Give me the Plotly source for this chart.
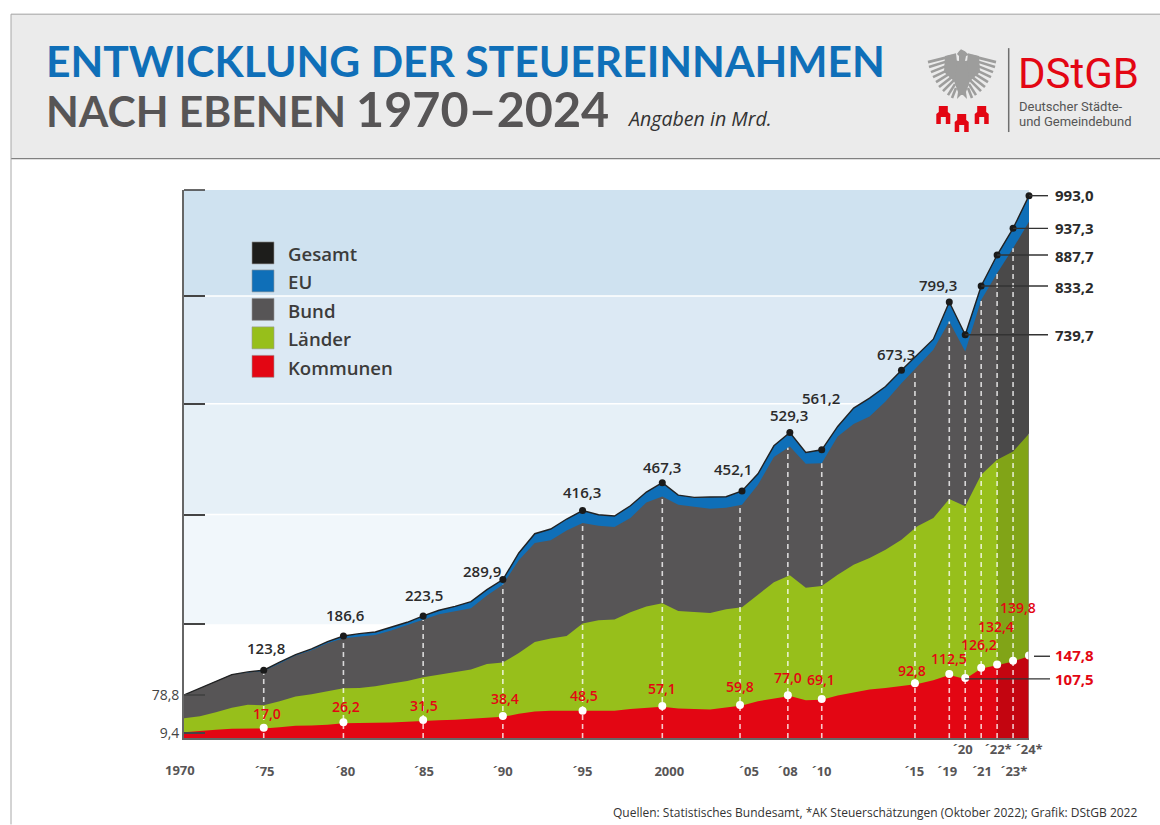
import numpy as np
import plotly.graph_objects as go

# ---------- data ----------
years = [y for y in range(1970, 2025) if y != 2018]   # the source skips one year on its axis
total_top = [78.8,91.7,103.9,116.1,121,124,138.7,152.7,163,176.5,186.6,191,194,202.7,211.8,223.5,233.8,241,249.6,271.5,
             289.9,338.6,373.9,382.5,400.8,416.3,408.7,406.2,425.1,450.1,467.3,444.6,440.4,441,441.6,452.1,483.6,534.8,
             559.2,522.6,527.5,570.2,603.7,622,643.4,673.3,701,729.9,798,738,827.4,884,932.8,992.6]
bund_top = [78.8,91.5,103.7,116,120,122.5,136.2,150.9,160.6,173.4,182.6,186.2,188.7,196.6,206.3,216,226.4,232,237.4,260.6,
            280.7,325.2,356.9,361.8,380,393.4,388.6,386.1,402.6,431.2,442.2,427,422.7,419.6,421.5,427,463.5,514.1,
            533.6,501.9,503,552,574.5,588.5,616,649.5,680,710.4,762.2,707.3,801.8,850.6,896.2,945]
laender_top = [36.3,39.9,47.3,55.2,60.7,60,67.4,75.9,80.2,85.6,91.1,91.7,94.8,99.7,104.5,111.2,116.1,119.8,125.3,135.6,
               138.1,155.7,175.8,182,186.8,209.4,215.5,216.7,230.1,240.5,246.6,232.5,230.7,228.9,235.6,239.2,262.4,285,
               297.8,275.2,278.3,299,317.3,329.5,344.7,362.9,387.4,402.6,437.4,424,481.9,509.3,524.5,556.8]
kommunen_top = [10.5,13.1,14.9,16.8,17.4,17.4,19.8,22.3,22.9,24.1,27.1,27.1,27.1,28.3,29.6,31.4,32.6,33.2,35,37.5,
                38.7,44.2,48.5,49.7,49.7,48.5,48.5,49.7,53.3,55.8,57,54,52.7,52.1,55.8,59.4,67.4,72.8,
                77.1,69.2,70,78,83,88.7,91.7,96,99,105.8,115.5,108.2,127.1,133.2,139.9,149.6]

marked_years = [1975,1980,1985,1990,1995,2000,2005,2008,2010,2015,2019,2020,2021,2022,2023]
gesamt_labels = ["123,8","186,6","223,5","289,9","416,3","467,3","452,1","529,3","561,2","673,3","799,3"]
kommunen_labels = ["17,0","26,2","31,5","38,4","48,5","57,1","59,8","77,0","69,1","92,8","112,5","126,2","132,4","139,8"]
right_gesamt_labels = ["993,0","937,3","887,7","833,2","739,7"]
right_gesamt_years = [2024,2023,2022,2021,2020]
right_kommunen_labels = ["147,8","107,5"]
right_kommunen_years = [2024,2020]
lower_ticks = {1975:"´75",1980:"´80",1985:"´85",1990:"´90",1995:"´95",2000:"2000",2005:"´05",2008:"´08",
               2010:"´10",2015:"´15",2019:"´19",2021:"´21",2023:"´23*"}
upper_ticks = {2020:"´20",2022:"´22*",2024:"´24*"}
band_edges = [0, 208, 409, 612, 809, 1003]
legend_names = ["Gesamt","EU","Bund","Länder","Kommunen"]

# ---------- styles / layout ----------
RED, GREEN, GRAY, BLUE, BLACK = "#e30613", "#97bf1b", "#575556", "#0f6fb8", "#1d1d1b"
TXT = "#3c3c3b"
FONT = "Open Sans"
W, H = 1160, 825
L, R, T, B = 184, 1029, 190, 738.5
PW, PH = R - L, B - T
n = len(years)
assert all(len(a) == n for a in (total_top, bund_top, laender_top, kommunen_top))
slots = list(range(n))
slot = dict(zip(years, slots))
DX = PW / (n - 1)

def xp(x): return (x - L) / PW
def yp(y): return (B - y) / PH
def ppath(pts, close=True):
    s = "M " + " L ".join(f"{xp(a):.5f} {yp(b):.5f}" for a, b in pts)
    return s + (" Z" if close else "")

fig = go.Figure()
def area(y, color, name, xs=slots):
    fig.add_trace(go.Scatter(x=xs, y=y, mode="lines", line=dict(width=0, color=color), fill="tozeroy",
                             fillcolor=color, name=name, hoverinfo="skip", showlegend=False))
area(total_top, BLUE, "EU")
area(bund_top, GRAY, "Bund")
area(laender_top, GREEN, "Länder")
area(kommunen_top, RED, "Kommunen")
# darker forecast years
fc = slot[2022]
area(bund_top[fc:], "rgba(0,0,0,0.14)", "Prognose", slots[fc:])

# dashed drop lines
DASH_NUDGE = {2015: 13.5/DX, 2005: -2/DX, 2008: -2/DX}
def x_of(yr): return slot[yr] + DASH_NUDGE.get(yr, 0)
for yr in marked_years:
    xx = x_of(yr)
    top = float(np.interp(xx, slots, bund_top))
    fig.add_trace(go.Scatter(x=[xx, xx], y=[0, top], mode="lines", hoverinfo="skip", showlegend=False,
                             line=dict(color="rgba(255,255,255,0.78)", width=1.6, dash="5px,4px")))

# total line + dots
fig.add_trace(go.Scatter(x=slots, y=total_top, mode="lines", name="Gesamt", hoverinfo="skip", showlegend=False,
                         line=dict(color="#222222", width=1.4)))
gy = marked_years + [2024]
fig.add_trace(go.Scatter(x=[slot[y] for y in gy], y=[total_top[slot[y]] for y in gy], mode="markers", cliponaxis=False,
                         marker=dict(color="#1a1a1a", size=7), hoverinfo="skip", showlegend=False))
kx = [x_of(y) for y in gy]
fig.add_trace(go.Scatter(x=kx, y=[float(np.interp(a, slots, kommunen_top)) + 1.5 for a in kx], mode="markers",
                         cliponaxis=False, marker=dict(color="white", size=8), hoverinfo="skip", showlegend=False))

shapes, ann = [], []
def text(x, y, s, size=14, color=TXT, weight=400, anchor="center", family=FONT, italic=False):
    ann.append(dict(x=xp(x), y=yp(y), xref="paper", yref="paper", text=s, showarrow=False, xanchor=anchor,
                    yanchor="middle", align=anchor if anchor != "center" else "center",
                    font=dict(family=family, size=size, color=color, weight=weight,
                              style="italic" if italic else "normal")))
def line(x0, y0, x1, y1, color, width, layer="above"):
    shapes.append(dict(type="line", xref="paper", yref="paper", x0=xp(x0), y0=yp(y0), x1=xp(x1), y1=yp(y1),
                       line=dict(color=color, width=width), layer=layer))

# bands
band_cols = ["rgba(0,0,0,0)", "#f1f7fb", "#e6f0f7", "#dce9f4", "#cfe2f0"]
for i in range(1, 5):
    shapes.append(dict(type="rect", xref="x", yref="y", x0=0, x1=n-1, y0=band_edges[i], y1=band_edges[i+1],
                       fillcolor=band_cols[i], line=dict(width=0), layer="below"))
for e in band_edges[2:5]:
    shapes.append(dict(type="line", xref="x", yref="y", x0=0, x1=n-1, y0=e, y1=e,
                       line=dict(color="white", width=1.5), layer="below"))
# right edge
shapes.append(dict(type="line", xref="x", yref="y", x0=n-1, x1=n-1, y0=0, y1=laender_top[-1],
                   line=dict(color="#9a9a9a", width=1.2), layer="above"))
# top tick (the axis drops an inside tick at its very end)
line(L, T, L + 21, T, "#444444", 1.6)

# connectors
for yr in right_gesamt_years:
    shapes.append(dict(type="line", xref="paper", yref="y", x0=xp(L + DX*slot[yr]), x1=xp(1048), y0=total_top[slot[yr]],
                       y1=total_top[slot[yr]], line=dict(color="#333333", width=1.4)))
shapes.append(dict(type="line", xref="paper", yref="y", x0=xp(1034), x1=xp(1050), y0=149.6, y1=149.6,
                   line=dict(color="#333333", width=1.4)))
shapes.append(dict(type="line", xref="paper", yref="y", x0=xp(L + DX*slot[2020]), x1=xp(1050), y0=108.2, y1=108.2,
                   line=dict(color="#333333", width=1.4)))

# header
shapes.append(dict(type="rect", xref="paper", yref="paper", x0=xp(11), x1=xp(1162), y0=yp(158), y1=yp(14),
                   fillcolor="#ebebeb", line=dict(width=0), layer="below"))
line(11, 14, 1160, 14, "#a0a0a0", 1)
line(11, 158.5, 1160, 158.5, "#808080", 1.2)
line(11, 14, 11, 825, "#a8a8a8", 1)

# titles
text(44, 60, "ENTWICKLUNG DER STEUEREINNAHMEN", 42.6, BLUE, 700, "left", "Lato")
text(44, 110, "NACH EBENEN", 42.6, GRAY, 700, "left", "Lato")
text(354, 108, "1970–2024", 48.5, GRAY, 700, "left", "Lato")
text(625, 118, "Angaben in Mrd.", 19.6, "#333333", 400, "left", FONT, True)

# logo: separator + text
line(1008.7, 48, 1008.7, 132, "#6f6f6f", 1.5)
text(1016, 73.5, "DStGB", 42, RED, 400, "left", "Roboto")
text(1017, 106, "Deutscher Städte-", 13, "#555555", 400, "left", "Roboto")
text(1017, 121, "und Gemeindebund", 13, "#555555", 400, "left", "Roboto")

# logo: eagle
EAGLE = "#9d9d9c"
cx = 962
def mirror(pts): return [(2*cx - a, b) for a, b in pts]
body = [(cx-1,49),(cx+3,51),(cx+7,55),(cx+4,56),(cx+3,61),(cx+9,60),(cx+11,70),(cx+7,84),(cx+4,92),(cx+5,99),(cx+1,95),
        (cx-1,95),(cx-5,99),(cx-4,92),(cx-7,84),(cx-11,70),(cx-9,60),(cx-3,61),(cx-3,56),(cx-5,54),(cx-3,51)]
shapes.append(dict(type="path", xref="paper", yref="paper", path=ppath(body), fillcolor=EAGLE, line=dict(width=0)))
feathers = [[(952,56),(928,62)],[(951,60),(929,67)],[(951,64),(931,72)],[(952,68),(933,77)],[(952,72),(936,82)],
            [(953,76),(939,87)],[(954,80),(943,91)],[(955,84),(948,95)],[(956,88),(952,98)]]
for f in feathers:
    for seg in (f, mirror(f)):
        shapes.append(dict(type="path", xref="paper", yref="paper", path=ppath(seg, False),
                           line=dict(color=EAGLE, width=2.6)))
wing = [(956,53),(945,56),(944,72),(955,82),(957,62)]
for seg in (wing, mirror(wing)):
    shapes.append(dict(type="path", xref="paper", yref="paper", path=ppath(seg), fillcolor=EAGLE, line=dict(width=0)))
# logo: towers
def tower(x, bot):
    return [(x-7,bot),(x-7,bot-10),(x-4.5,bot-12),(x-4.5,bot-18),(x+4.5,bot-18),(x+4.5,bot-12),(x+7,bot-10),(x+7,bot),
            (x+2.5,bot),(x+2.5,bot-7),(x-2.5,bot-7),(x-2.5,bot)]
for tx, tb in [(943.3,124),(961.7,132),(981.7,124)]:
    shapes.append(dict(type="path", xref="paper", yref="paper", path=ppath(tower(tx, tb)), fillcolor=RED, line=dict(width=0)))

# legend
sw_col = [BLACK, BLUE, GRAY, GREEN, RED]
leg_y = [253, 281, 309.5, 338, 366.5]
for nm, c, yy in zip(legend_names, sw_col, leg_y):
    shapes.append(dict(type="rect", xref="paper", yref="paper", x0=xp(252), x1=xp(274), y0=yp(yy+11), y1=yp(yy-11),
                       fillcolor=c, line=dict(color="#999999", width=0.6)))
    text(286, yy+1, nm, 18.6, TXT, 600, "left")

# value labels
gl_pos = [(266,648),(345,615),(424,595),(482,571),(582,492),(662,467),(733,469),(789,415),(821,398),(896,354),(937.5,285)]
for s, (a, b) in zip(gesamt_labels, gl_pos):
    text(a, b, s, 15, "#2b2b2b", 600)
rl_pos = [(267,714),(346,706.5),(424,706),(505,699),(584,696),(662,689),(740,687),(788,678),(821,680),(912,671),
          (949,659),(979,644.5),(996,627),(1018,608)]
for s, (a, b) in zip(kommunen_labels, rl_pos):
    text(a, b, s, 14, RED, 600)
for s, b in zip(right_gesamt_labels, [195,228,256,287,335]):
    text(1074, b, s, 15, "#2b2b2b", 700)
for s, b in zip(right_kommunen_labels, [655.7,679]):
    text(1074, b, s, 15, RED, 700)

# footer
text(1139, 813, "Quellen: Statistisches Bundesamt, *AK Steuerschätzungen (Oktober 2022); Grafik: DStGB 2022", 12, "#333333", 400, "right")

# x tick labels
TICK_NUDGE = {1975:1,1980:2,1985:1,2000:7,2005:7,2008:-2,2015:13,2019:-2,2021:1,2023:1}
UP_NUDGE = {2020:-2,2022:1}
tickvals = [slot[y] + TICK_NUDGE.get(y, 0)/DX for y in lower_ticks]
for y, s in upper_ticks.items():
    text(L + DX*slot[y] + UP_NUDGE.get(y, 0), 750, s, 13, GRAY, 700)
text(180, 771, "1970", 13, GRAY, 700)

fig.update_layout(
    width=W, height=H, paper_bgcolor="white", plot_bgcolor="white", showlegend=False,
    margin=dict(l=L, r=W-R, t=T, b=H-B, pad=0), shapes=shapes, annotations=ann,
    xaxis=dict(range=[0, n-1], tickmode="array", tickvals=tickvals, ticktext=list(lower_ticks.values()),
               ticks="", showgrid=False, zeroline=False, showline=True, linecolor="#666666", linewidth=1.5,
               tickfont=dict(family=FONT, size=13, color=GRAY, weight=700), ticklabelstandoff=21, tickangle=0),
    yaxis=dict(range=[0, band_edges[-1]], tickmode="array", tickvals=[9.4, 78.8] + band_edges[1:],
               ticktext=["9,4", "78,8"] + [""]*5, ticks="inside", ticklen=21, tickcolor="#444444", tickwidth=1.6,
               showgrid=False, zeroline=False, showline=True, linecolor="#666666", linewidth=1.8,
               tickfont=dict(family=FONT, size=14, color="#444444")),
)
fig.write_html("out.html", config=dict(displayModeBar=False),
               post_script="document.body.style.margin='0';document.body.style.overflow='hidden';")
